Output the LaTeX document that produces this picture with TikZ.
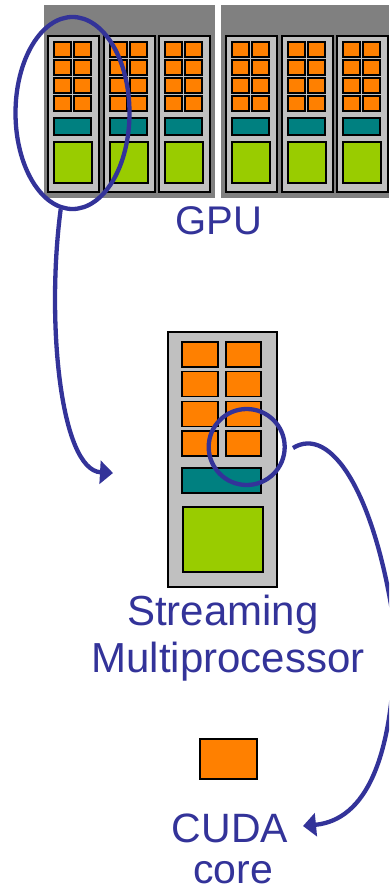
\documentclass[tikz,border=0pt]{standalone}
\usepackage{fontspec}
\setmainfont{Liberation Sans}
\usetikzlibrary{arrows.meta,shapes.geometric}
\definecolor{ink}{HTML}{333399}
\definecolor{gpugray}{HTML}{808080}
\definecolor{smgray}{HTML}{C0C0C0}
\definecolor{coreor}{HTML}{FF8000}
\definecolor{tealc}{HTML}{008080}
\definecolor{limec}{HTML}{99CC00}
\begin{document}
\begin{tikzpicture}[x=1pt,y=-1pt,
  smbox/.style={fill=smgray,draw=black,line width=1.8pt},
  corebox/.style={fill=coreor,draw=black,line width=1.5pt},
  tealbox/.style={fill=tealc,draw=black,line width=1.5pt},
  greenbox/.style={fill=limec,draw=black,line width=1.5pt},
  ring/.style={draw=ink,line width=4.3pt},
  link/.style={draw=ink,line width=4.3pt,-{Triangle[length=13pt,width=23pt]}},
  lbl/.style={text=ink,inner sep=0pt,anchor=base,font=\fontsize{40}{48}\selectfont}]
\useasboundingbox (0,0) rectangle (389,890);
% GPU backdrop
\fill[gpugray] (44,5) rectangle (215,198);
\fill[gpugray] (221,5) rectangle (389,198);
\foreach \x in {48,104,159,226,282,337} {
  \draw[smbox] (\x,36) rectangle ++(51,156);
  \foreach \r in {0,1,2,3} {
    \draw[corebox] (\x+6,42+18*\r) rectangle ++(17,15);
    \draw[corebox] (\x+26,42+18*\r) rectangle ++(17,15);
  }
  \draw[tealbox] (\x+6,118) rectangle ++(37,17);
  \draw[greenbox] (\x+6,142) rectangle ++(38,41);
}
% big SM
\draw[smbox] (168,332) rectangle (277,587);
\foreach \r in {0,1,2,3} {
  \draw[corebox] (182,342+29.7*\r) rectangle ++(36,25);
  \draw[corebox] (226,342+29.7*\r) rectangle ++(35,25);
}
\draw[tealbox] (182,468) rectangle (261,493);
\draw[greenbox] (183,507) rectangle (263,572);
% single core
\draw[corebox] (200,739) rectangle (257,779);
% rings
\node[ring,ellipse,minimum width=114pt,minimum height=192pt,inner sep=0pt] (gpuring) at (72.5,113) {};
\node[ring,circle,minimum size=76pt,inner sep=0pt] (smring) at (246.7,447) {};
% labels
\node[lbl] (gpu) at (219,235) {GPU};
\node[lbl,font=\fontsize{42}{48}\selectfont] (sm1) at (223,625) {Streaming};
\node[lbl,font=\fontsize{42}{48}\selectfont] (sm2) at (228,672) {Multiprocessor};
\node[lbl,font=\fontsize{41}{48}\selectfont] (cuda1) at (230,842) {CUDA};
\node[lbl,font=\fontsize{41}{48}\selectfont] (cuda2) at (233,883) {core};
% connectors
\coordinate (e1) at (113,473);
\coordinate (s2) at (293,448);
\coordinate (e2) at (303,826);
\draw[link] (gpuring.263) .. controls (46,320) and (60,470) .. (e1);
\begin{scope}
\clip (0,0) rectangle (389,890);
\draw[link] (s2) .. controls (330,425) and (375,490) .. (395,630) .. controls (395,760) and (365,820) .. (e2);
\end{scope}
\end{tikzpicture}
\end{document}
